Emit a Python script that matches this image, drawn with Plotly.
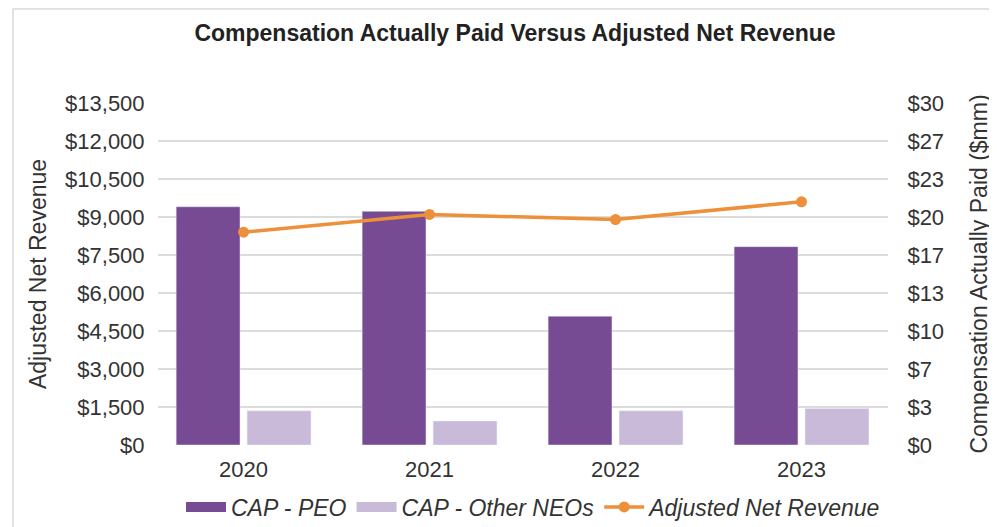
import plotly.graph_objects as go

years = ["2020", "2021", "2022", "2023"]
cap_peo = [20.9, 20.5, 11.3, 17.4]          # $mm
cap_other_neos = [3.0, 2.1, 3.0, 3.2]       # $mm
adj_net_revenue = [8400, 9100, 8900, 9600]  # $mm

rev_tickvals = list(range(0, 13501, 1500))
rev_ticktext = ["$" + format(v, ",") for v in rev_tickvals]
cap_tickvals = [i * 30 / 9 for i in range(10)]
cap_ticktext = ["$0", "$3", "$7", "$10", "$13", "$17", "$20", "$23", "$27", "$30"]

FONT = "Liberation Sans"
TXT = "#333333"
PEO_C, NEO_C, REV_C = "#774A94", "#C9BAD9", "#EE8F3A"

# page body has an 8px margin, so the figure is 8px smaller than the window
W, H = 989, 519
L, R, T, B = 150, 109, 95, 82
PW, PH = W - L - R, H - T - B

fig = go.Figure()
fig.add_trace(go.Bar(x=years, y=cap_peo, name="CAP - PEO", marker_color=PEO_C,
                     yaxis="y", showlegend=False))
fig.add_trace(go.Bar(x=years, y=cap_other_neos, name="CAP - Other NEOs",
                     marker_color=NEO_C, yaxis="y", showlegend=False))
# legend entries drawn as wide swatches
fig.add_trace(go.Scatter(x=[None], y=[None], name="CAP - PEO", mode="lines",
                         line=dict(color=PEO_C, width=12), yaxis="y", hoverinfo="skip"))
fig.add_trace(go.Scatter(x=[None], y=[None], name="CAP - Other NEOs", mode="lines",
                         line=dict(color=NEO_C, width=12), yaxis="y", hoverinfo="skip"))
fig.add_trace(go.Scatter(x=years, y=adj_net_revenue, name="Adjusted Net Revenue",
                         mode="lines+markers", yaxis="y2",
                         line=dict(color=REV_C, width=3.5),
                         marker=dict(color=REV_C, size=11)))

fig.update_layout(
    width=W, height=H, autosize=False,
    paper_bgcolor="white", plot_bgcolor="white",
    margin=dict(l=L, r=R, t=T, b=B),
    font=dict(family=FONT, size=22, color=TXT),
    title=dict(text="<b>Compensation Actually Paid Versus Adjusted Net Revenue</b>",
               x=(515 - 8 - L) / PW, xref="paper", xanchor="center",
               y=1 - 25 / H, yanchor="middle",
               font=dict(family=FONT, size=23, color="#222222")),
    barmode="group", bargap=0.237, bargroupgap=0.1,
    xaxis=dict(type="category", range=[-0.46, 3.465], showgrid=False, automargin=False,
               showline=False, ticks="outside", ticklen=5, tickcolor="rgba(0,0,0,0)",
               tickfont=dict(size=22, color=TXT)),
    yaxis=dict(side="right", range=[0, 30], tickvals=cap_tickvals, ticktext=cap_ticktext,
               showgrid=True, gridcolor="#DCDCDC", gridwidth=1.5, zeroline=False,
               showline=False, automargin=False,
               ticks="outside", ticklen=14, tickcolor="rgba(0,0,0,0)",
               tickfont=dict(size=22, color=TXT),
               title=dict(text="Compensation Actually Paid ($mm)",
                          font=dict(size=23, color=TXT), standoff=27)),
    yaxis2=dict(side="left", overlaying="y", range=[0, 13500], tickvals=rev_tickvals,
                ticktext=rev_ticktext, showgrid=False, zeroline=False,
                showline=False, automargin=False,
                ticks="outside", ticklen=8, tickcolor="rgba(0,0,0,0)",
                tickfont=dict(size=22, color=TXT),
                title=dict(text="Adjusted Net Revenue",
                           font=dict(size=23, color=TXT), standoff=12)),
    legend=dict(orientation="h", xref="paper", x=(534 - 8 - L) / PW, xanchor="center",
                yref="container", y=(H - 499) / H, yanchor="middle",
                font=dict(size=23, color=TXT, style="italic"), itemwidth=40,
                traceorder="normal"),
    shapes=[dict(type="rect", xref="paper", yref="paper",
                 x0=(5 - L) / PW, x1=(983 - L) / PW,
                 y0=-0.3, y1=1 + (T - 1) / PH,
                 line=dict(color="#D9D9D9", width=1.5), fillcolor="rgba(0,0,0,0)",
                 layer="below")],
)

fig.write_html("out.html")
